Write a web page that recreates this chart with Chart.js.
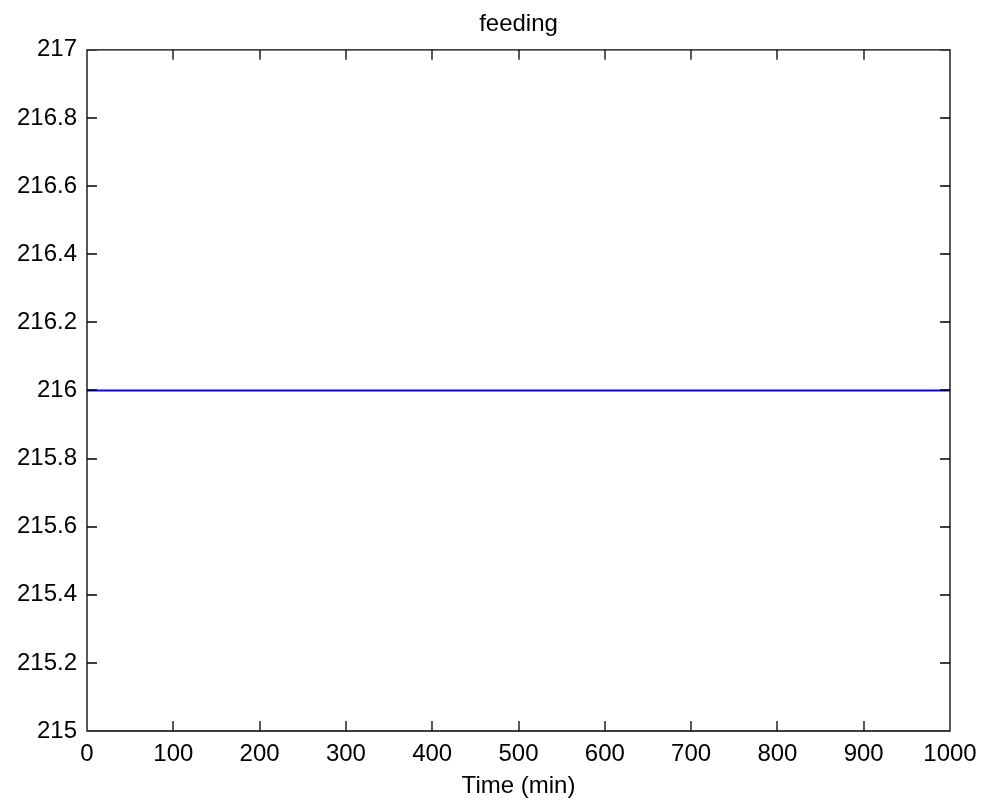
<!DOCTYPE html>
<html>
  <head>
    <meta charset='utf-8'>
    <title>feeding</title>
    <script src="https://cdn.jsdelivr.net/npm/chart.js@4.4.1/dist/chart.umd.min.js"></script>
    <style>
      body { margin: 0; background: #fff; }
      #wrap { width: 982px; height: 805px; }
    </style>
  </head>
  <body>
    <div id="wrap">
      <canvas id="chart_feeding"></canvas>
    </div>
    <script>
      // feeding level over time (min)
      var time_min = [0, 1000];
      var feeding = [216, 216];
      var x_ticks = [0, 100, 200, 300, 400, 500, 600, 700, 800, 900, 1000];
      var y_ticks = [215, 215.2, 215.4, 215.6, 215.8, 216, 216.2, 216.4, 216.6, 216.8, 217];

      var points = time_min.map(function(t, i) { return {x: t, y: feeding[i]}; });
      var font = {family: "'Liberation Sans', Arial, sans-serif", size: 24, weight: 'normal'};

      // box around the axes with short ticks pointing inwards on all four sides
      var boxTicks = {
        id: 'boxTicks',
        afterDatasetsDraw: function(chart) {
          var ctx = chart.ctx, a = chart.chartArea;
          var sx = chart.scales.x, sy = chart.scales.y;
          var len = 10;
          ctx.save();
          ctx.strokeStyle = '#000';
          ctx.lineWidth = 1.3;
          ctx.beginPath();
          ctx.rect(a.left, a.top, a.right - a.left, a.bottom - a.top);
          sx.ticks.forEach(function(t) {
            var px = Math.round(sx.getPixelForValue(t.value));
            ctx.moveTo(px, a.bottom); ctx.lineTo(px, a.bottom - len);
            ctx.moveTo(px, a.top); ctx.lineTo(px, a.top + len);
          });
          sy.ticks.forEach(function(t) {
            var py = Math.round(sy.getPixelForValue(t.value));
            ctx.moveTo(a.left, py); ctx.lineTo(a.left + len, py);
            ctx.moveTo(a.right, py); ctx.lineTo(a.right - len, py);
          });
          ctx.stroke();
          ctx.restore();
        }
      };

      function plain(v) { return String(Math.round(v * 10) / 10); }

      var ctx = document.getElementById('chart_feeding').getContext('2d');
      var chart = new Chart(ctx, {
        type: 'scatter',
        data: {datasets: [
          {data: points, showLine: true, borderColor: '#0000ff', borderWidth: 2,
           pointRadius: 0, fill: false, label: 'feeding'}
        ]},
        options: {
          responsive: true,
          maintainAspectRatio: false,
          animation: false,
          layout: {padding: {left: 0, right: 32, top: 0, bottom: 0}},
          plugins: {
            legend: {display: false},
            tooltip: {enabled: false},
            title: {display: true, fullSize: false, text: 'feeding', color: '#000', font: font,
                    padding: {top: 10, bottom: 11}}
          },
          scales: {
            x: {
              type: 'linear', min: 0, max: 1000,
              afterBuildTicks: function(s) { s.ticks = x_ticks.map(function(v) { return {value: v}; }); },
              grid: {display: false, drawTicks: false},
              border: {display: false},
              ticks: {color: '#000', font: font, padding: 9, maxRotation: 0, callback: plain},
              title: {display: true, text: 'Time (min)', color: '#000', font: font,
                      padding: {top: 0, bottom: 4}},
              afterFit: function(s) { s.height = 74; s.paddingLeft = 0; s.paddingRight = 0; }
            },
            y: {
              type: 'linear', min: 215, max: 217,
              afterBuildTicks: function(s) { s.ticks = y_ticks.map(function(v) { return {value: v}; }); },
              grid: {display: false, drawTicks: false},
              border: {display: false},
              ticks: {color: '#000', font: font, padding: 10, callback: plain},
              afterFit: function(s) { s.width = 87; s.paddingTop = 0; s.paddingBottom = 0; }
            }
          }
        },
        plugins: [boxTicks]
      });
    </script>
  </body>
</html>
